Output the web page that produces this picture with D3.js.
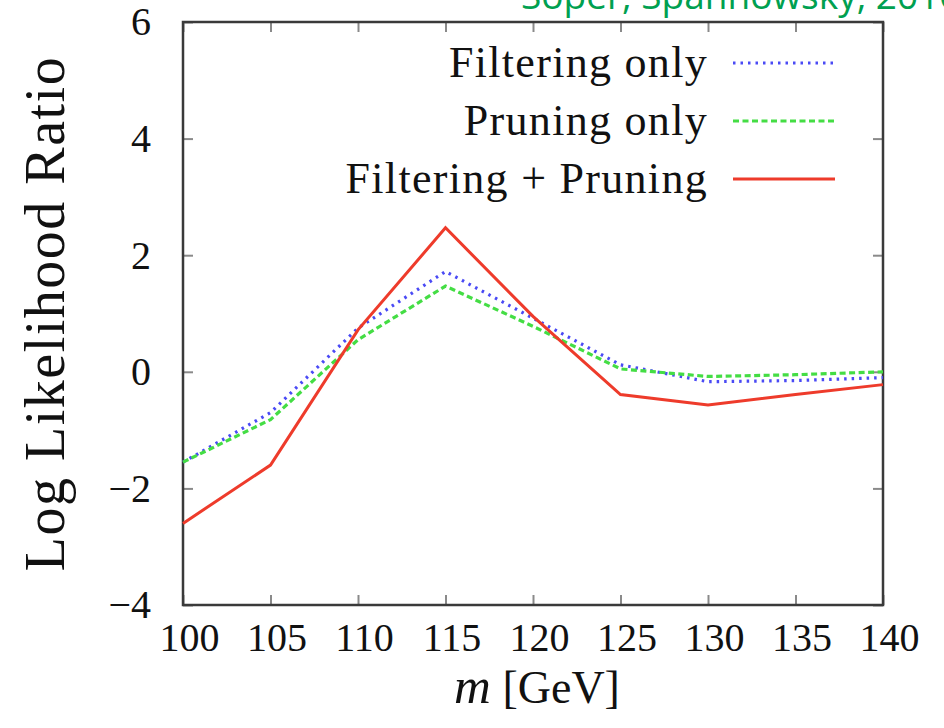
<!DOCTYPE html>
<html lang="en">
<head>
<meta charset="UTF-8">
<title>Log Likelihood Ratio vs m</title>
<script src="https://d3js.org/d3.v7.min.js"></script>
<style>
    body { margin: 0; background: #fff; }
    svg { display: block; }
    .serif { font-family: "Liberation Serif", "DejaVu Serif", serif; fill: #111; }
    .tick line { stroke: #8a8a8a; stroke-width: 2; }
    .tick text { font-family: "Liberation Serif", serif; font-size: 40px; fill: #111; }
</style>
</head>
<body>
<svg id="chart" width="944" height="728"></svg>
<script>
    // --- data ---
    const mass = [100, 105, 110, 115, 120, 125, 130, 135, 140];
    const filteringOnly = [-1.55, -0.7, 0.75, 1.72, 0.92, 0.12, -0.17, -0.15, -0.1];
    const pruningOnly = [-1.55, -0.82, 0.55, 1.47, 0.78, 0.05, -0.08, -0.05, 0.0];
    const filteringPruning = [-2.6, -1.6, 0.72, 2.47, 0.95, -0.39, -0.57, -0.39, -0.22];
    const xTicks = [100, 105, 110, 115, 120, 125, 130, 135, 140];
    const yTicks = [-4, -2, 0, 2, 4, 6];

    const series = [
        { name: "Filtering only", values: filteringOnly, color: "#4a4af5", dash: "2.5,5", width: 3.2 },
        { name: "Pruning only", values: pruningOnly, color: "#44dd44", dash: "6,3.5", width: 3.2 },
        { name: "Filtering + Pruning", values: filteringPruning, color: "#ee3b2b", dash: null, width: 3 }
    ];

    const svg = d3.select("#chart");
    const m = { left: 183, right: 883, top: 22, bottom: 605 };

    const x = d3.scaleLinear().domain([100, 140]).range([m.left, m.right]);
    const y = d3.scaleLinear().domain([-4, 6]).range([m.bottom, m.top]);

    // top-right citation, mostly cut off by the page edge
    svg.append("text")
        .attr("x", 521).attr("y", 9)
        .attr("font-family", "'Open Sans', 'Noto Sans', sans-serif")
        .attr("font-size", 37)
        .attr("fill", "#00a050")
        .text("Soper, Spannowsky, 2010");

    // axes (inward ticks on all four sides)
    const fmt = d => d < 0 ? "\u2212" + Math.abs(d) : d;
    svg.append("g").attr("transform", `translate(0,${m.bottom})`)
        .call(d3.axisBottom(x).tickValues(xTicks).tickSize(-10).tickPadding(18).tickFormat(fmt))
        .call(g => g.select(".domain").remove())
        .call(g => g.selectAll("text").attr("dx", 6));
    svg.append("g").attr("transform", `translate(0,${m.top})`)
        .call(d3.axisTop(x).tickValues(xTicks).tickSize(-10).tickFormat(""))
        .call(g => g.select(".domain").remove());
    svg.append("g").attr("transform", `translate(${m.left},0)`)
        .call(d3.axisLeft(y).tickValues(yTicks).tickSize(-10).tickPadding(32).tickFormat(fmt))
        .call(g => g.select(".domain").remove());
    svg.append("g").attr("transform", `translate(${m.right},0)`)
        .call(d3.axisRight(y).tickValues(yTicks).tickSize(-10).tickFormat(""))
        .call(g => g.select(".domain").remove());

    // frame
    svg.append("rect")
        .attr("x", m.left).attr("y", m.top)
        .attr("width", m.right - m.left).attr("height", m.bottom - m.top)
        .attr("fill", "none").attr("stroke", "#3a3a3a").attr("stroke-width", 2.5);

    // lines
    const line = d3.line().x((d, i) => x(mass[i])).y(d => y(d));
    svg.append("g").selectAll("path").data(series).join("path")
        .attr("d", d => line(d.values))
        .attr("fill", "none")
        .attr("stroke", d => d.color)
        .attr("stroke-width", d => d.width)
        .attr("stroke-dasharray", d => d.dash)
        .attr("stroke-linejoin", "miter");

    // legend
    const lg = svg.append("g").selectAll("g").data(series).join("g")
        .attr("transform", (d, i) => `translate(0,${63 + i * 58})`);
    lg.append("text").attr("class", "serif")
        .attr("x", 708).attr("y", 14)
        .attr("text-anchor", "end")
        .attr("font-size", 44)
        .attr("letter-spacing", 1.3)
        .text(d => d.name);
    lg.append("line")
        .attr("x1", 733).attr("x2", 835)
        .attr("stroke", d => d.color)
        .attr("stroke-width", d => d.width)
        .attr("stroke-dasharray", d => d.dash);

    // axis titles
    svg.append("text").attr("class", "serif")
        .attr("transform", `translate(64,${(m.top + m.bottom) / 2}) rotate(-90)`)
        .attr("text-anchor", "middle")
        .attr("font-size", 56)
        .attr("letter-spacing", 1.5)
        .text("Log Likelihood Ratio");

    const xt = svg.append("text").attr("class", "serif")
        .attr("x", (m.left + m.right) / 2 + 4).attr("y", 703)
        .attr("text-anchor", "middle")
        .attr("font-size", 46);
    xt.append("tspan").attr("font-style", "italic").attr("font-size", 51).text("m");
    xt.append("tspan").text(" [GeV]");
</script>
</body>
</html>
